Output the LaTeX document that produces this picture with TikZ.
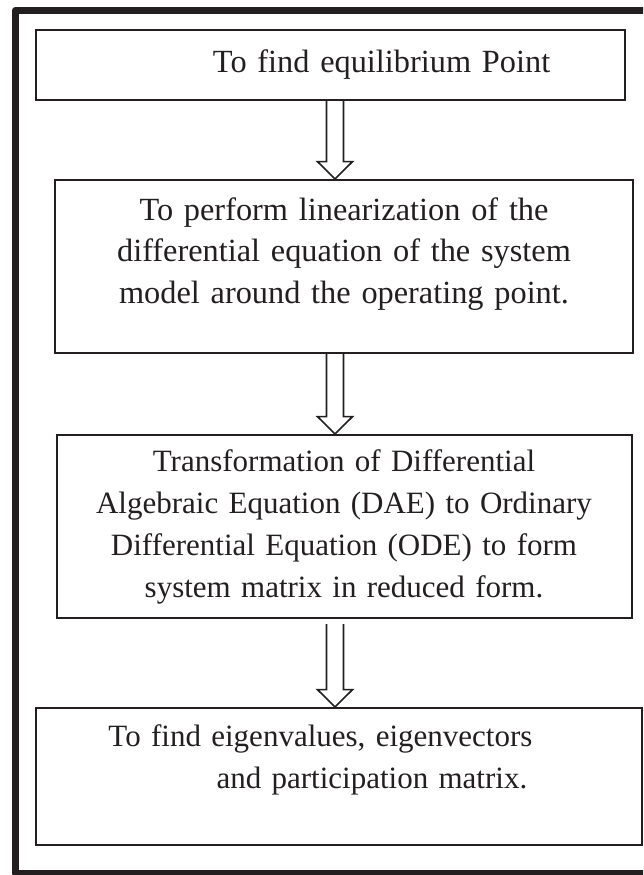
\documentclass[tikz,border=0pt]{standalone}
\usepackage{fontspec}
\setmainfont{Liberation Serif}
\usepackage{tikz}
\usetikzlibrary{positioning,calc}
\definecolor{ink}{RGB}{35,31,32}
\tikzset{
  stage/.style={
    draw=ink,
    line width=1.5pt,
    inner sep=0pt,
    text=ink,
    font=\fontsize{24.25pt}{31pt}\selectfont
  },
  small/.style={
    font=\fontsize{23.25pt}{31.5pt}\selectfont
  },
  flow/.style={
    draw=ink,
    line width=1.2pt,
    to path={
      ($(\tikztostart)+(-6.4pt,0)$) -- ($(\tikztotarget)+(-6.4pt,13pt)$)
      -- ($(\tikztotarget)+(-13.1pt,13pt)$) -- (\tikztotarget)
      -- ($(\tikztotarget)+(13.1pt,13pt)$) -- ($(\tikztotarget)+(6.4pt,13pt)$)
      -- ($(\tikztostart)+(6.4pt,0)$)
    }
  },
  frame/.style={
    draw=ink,
    line width=5.25pt,
    line join=round
  }
}

\begin{document}
\begin{tikzpicture}

\useasboundingbox (0,0) rectangle (482.25pt,-656.25pt);
\clip (0,0) rectangle (482.25pt,-656.25pt);

% outer frame, runs off the right side
\draw[frame] (11.6pt,-7.5pt) rectangle (520pt,-654.75pt);

\coordinate (axis) at (251.25pt,0);

\node[stage, text width=441.75pt, minimum height=52.5pt, align=left]
  (equil) at (247.875pt,-48.75pt) {
\hspace*{132.75pt}To find equilibrium Point
};

\node[stage, text width=433.5pt, minimum height=129.75pt, align=center,
  below=58.5pt of equil, xshift=10.125pt] (linear) {
To perform linearization of the\\
differential equation of the system\\
model around the operating point.\par\vspace*{18.75pt}
};

\node[stage, small, text width=431.25pt, minimum height=137.25pt, align=center,
  below=60pt of linear] (transform) {
Transformation of Differential\\
Algebraic Equation (DAE) to Ordinary\\
Differential Equation (ODE) to form\\
system matrix in reduced form.
};

\node[stage, small, text width=454.5pt, minimum height=102.75pt, align=left,
  below=66pt of transform, xshift=-4.125pt] (eigen) {
\hspace*{54.75pt}To find eigenvalues, eigenvectors\\
\hspace*{135.75pt}and participation matrix.\par\vspace*{24.75pt}
};

\draw[flow] (equil.south -| axis) to (linear.north -| axis);
\draw[flow] (linear.south -| axis) to (transform.north -| axis);
\draw[flow] ($(transform.south -| axis)+(0,-3.75pt)$) to (eigen.north -| axis);

\end{tikzpicture}
\end{document}
